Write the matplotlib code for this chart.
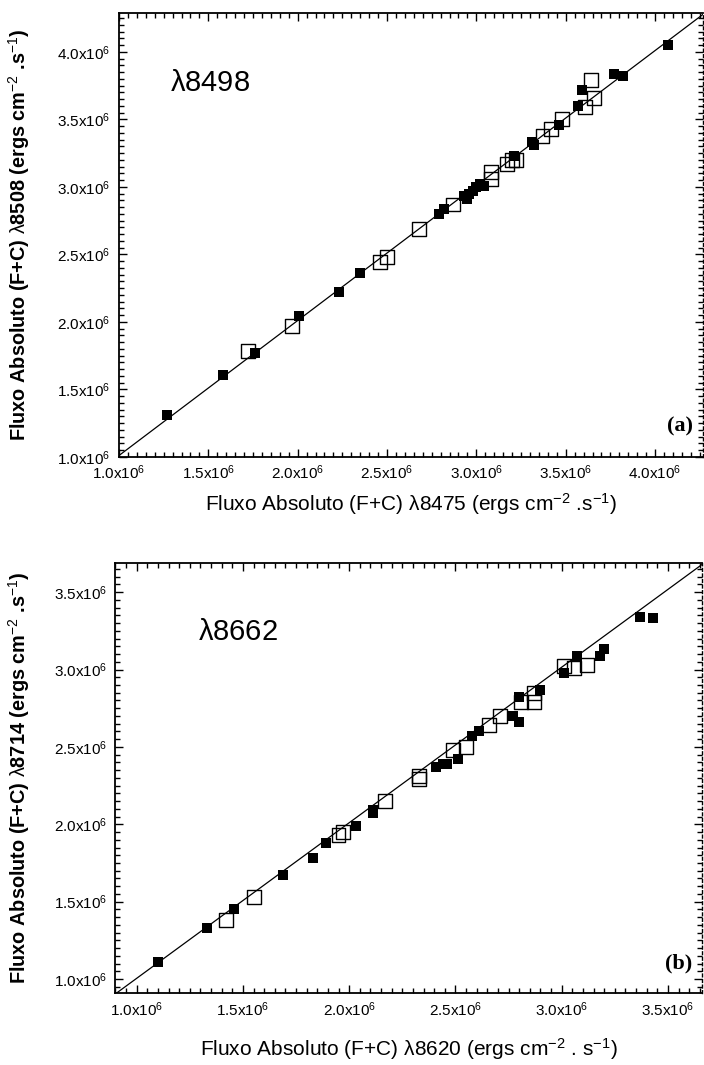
import numpy as np
import matplotlib
matplotlib.use("Agg")
import matplotlib.pyplot as plt
from matplotlib.ticker import MultipleLocator, FuncFormatter

plt.rcParams['font.family'] = ['Liberation Sans', 'DejaVu Sans']
plt.rcParams['mathtext.fontset'] = 'custom'
plt.rcParams['mathtext.rm'] = 'Liberation Sans'
plt.rcParams['mathtext.it'] = 'Liberation Sans'
plt.rcParams['mathtext.bf'] = 'Liberation Sans:bold'

# ---------------- data (units of 10^6 ergs cm^-2 s^-1) ----------------
# panel (a): lambda8498 -> x = lambda8475, y = lambda8508
a_filled_x = [1.27, 1.58, 1.76, 2.01, 2.23, 2.35, 2.79, 2.82, 2.93, 2.95, 2.96, 2.98,
              3.00, 3.02, 3.04, 3.21, 3.31, 3.32, 3.46, 3.57, 3.59, 3.77, 3.82, 4.07]
a_filled_y = [1.31, 1.61, 1.77, 2.04, 2.22, 2.36, 2.80, 2.84, 2.93, 2.91, 2.95, 2.97,
              3.00, 3.02, 3.01, 3.23, 3.33, 3.31, 3.46, 3.60, 3.72, 3.84, 3.82, 4.05]
a_open_x = [1.72, 1.97, 2.46, 2.50, 2.68, 2.87, 3.08, 3.08, 3.17, 3.20, 3.22, 3.37,
            3.42, 3.48, 3.61, 3.64, 3.66]
a_open_y = [1.785, 1.97, 2.445, 2.48, 2.69, 2.87, 3.06, 3.11, 3.17, 3.20, 3.20, 3.38,
            3.43, 3.50, 3.59, 3.79, 3.66]
a_fit = [1.0, 0.01]          # slope, intercept

# panel (b): lambda8662 -> x = lambda8620, y = lambda8714
b_filled_x = [1.10, 1.33, 1.46, 1.69, 1.83, 1.89, 2.03, 2.11, 2.11, 2.41, 2.44, 2.46,
              2.51, 2.58, 2.61, 2.77, 2.80, 2.80, 2.90, 3.01, 3.07, 3.18, 3.20, 3.37, 3.43]
b_filled_y = [1.11, 1.33, 1.45, 1.67, 1.78, 1.88, 1.99, 2.09, 2.07, 2.37, 2.39, 2.39,
              2.42, 2.57, 2.60, 2.70, 2.66, 2.82, 2.87, 2.98, 3.09, 3.09, 3.13, 3.34, 3.33]
b_open_x = [1.42, 1.55, 1.95, 1.97, 2.17, 2.33, 2.33, 2.49, 2.55, 2.66, 2.71, 2.81,
            2.87, 2.87, 3.01, 3.06, 3.12]
b_open_y = [1.38, 1.53, 1.93, 1.95, 2.15, 2.31, 2.29, 2.48, 2.50, 2.64, 2.70, 2.79,
            2.85, 2.79, 3.02, 3.01, 3.03]
b_fit = [1.005, 0.0]

panels = [
    dict(rect=[0.169, 0.571, 0.830, 0.417], xlim=(1.0, 4.27), ylim=(1.0, 4.29),
         fx=a_filled_x, fy=a_filled_y, ox=a_open_x, oy=a_open_y, fit=a_fit,
         line=r'$\lambda$8498', linepos=(0.087, 0.842), tag='(a)',
         xlabel=r'Fluxo Absoluto (F+C) $\lambda$8475 (ergs cm$^{-2}$ .s$^{-1}$)',
         ylabel=r'Fluxo Absoluto (F+C) $\lambda$8508 (ergs cm$^{-2}$ .s$^{-1}$)',
         xlabel_y=504, ylabel_x=19),
    dict(rect=[0.164, 0.0676, 0.833, 0.404], xlim=(0.90, 3.66), ylim=(0.91, 3.69),
         fx=b_filled_x, fy=b_filled_y, ox=b_open_x, oy=b_open_y, fit=b_fit,
         line=r'$\lambda$8662', linepos=(0.141, 0.840), tag='(b)',
         xlabel=r'Fluxo Absoluto (F+C) $\lambda$8620 (ergs cm$^{-2}$ . s$^{-1}$)',
         ylabel=r'Fluxo Absoluto (F+C) $\lambda$8714 (ergs cm$^{-2}$ .s$^{-1}$)',
         xlabel_y=1049, ylabel_x=19),
]

W, H = 704, 1065
fig = plt.figure(figsize=(W / 100, H / 100), dpi=100)

fmt = FuncFormatter(lambda v, p: f'{v:.1f}x10$^{{6}}$')
tickfont = dict(family=['Liberation Sans Narrow', 'Liberation Sans'], size=11)

for P in panels:
    ax = fig.add_axes(P['rect'])
    ax.set_xlim(*P['xlim'])
    ax.set_ylim(*P['ylim'])
    xs = np.array(P['xlim'])
    ax.plot(xs, P['fit'][0] * xs + P['fit'][1], color='black', lw=0.9, zorder=1)
    ax.scatter(P['fx'], P['fy'], marker='s', s=56, c='black', linewidths=0, zorder=3)
    ax.scatter(P['ox'], P['oy'], marker='s', s=100, facecolors='none',
               edgecolors='black', linewidths=1.0, zorder=2)

    ax.xaxis.set_major_locator(MultipleLocator(0.5))
    ax.yaxis.set_major_locator(MultipleLocator(0.5))
    ax.xaxis.set_minor_locator(MultipleLocator(0.05))
    ax.yaxis.set_minor_locator(MultipleLocator(0.05))
    ax.xaxis.set_major_formatter(fmt)
    ax.yaxis.set_major_formatter(fmt)
    ax.tick_params(which='both', direction='in', top=True, right=True, width=1.0,
                   color='black')
    ax.tick_params(which='major', length=6)
    ax.tick_params(which='minor', length=3.5)
    ax.tick_params(axis='x', which='major', pad=5)
    ax.tick_params(axis='y', which='major', pad=6)
    for lab in ax.get_xticklabels() + ax.get_yticklabels():
        lab.set_fontfamily(tickfont['family'])
        lab.set_fontsize(tickfont['size'])
    for s in ['left', 'bottom', 'top']:
        ax.spines[s].set_linewidth(1.3)
    ax.spines['right'].set_linewidth(1.0)
    ax.spines['right'].set_linestyle((0, (2, 2)))

    ax.text(P['linepos'][0], P['linepos'][1], P['line'], transform=ax.transAxes,
            fontsize=21, ha='left', va='center')
    ax.text(0.983, 0.045, P['tag'], transform=ax.transAxes, fontsize=16,
            fontweight='bold', family='Liberation Serif', ha='right', va='bottom')

    r = P['rect']
    fig.text(r[0] + r[2] / 2, 1 - P['xlabel_y'] / H, P['xlabel'], fontsize=15,
             ha='center', va='center')
    fig.text(P['ylabel_x'] / W, r[1] + r[3] / 2, P['ylabel'], fontsize=14.3,
             fontweight='bold', rotation=90, ha='center', va='center')

fig.savefig('out.png', dpi=100)
